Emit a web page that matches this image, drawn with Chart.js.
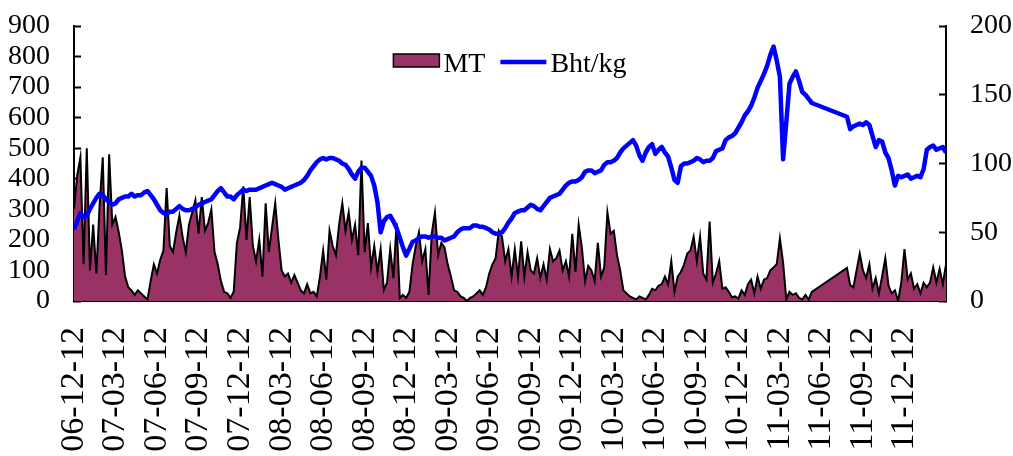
<!DOCTYPE html>
<html>
<head>
<meta charset="utf-8">
<script src="https://cdn.jsdelivr.net/npm/chart.js@4.4.1/dist/chart.umd.min.js"></script>
<style>
  html, body { margin: 0; padding: 0; background: #fff; overflow: hidden; }
  canvas { display: block; }
</style>
</head>
<body>
<canvas id="mtChart" width="1013" height="456"></canvas>
<script>
// quarter marks on the x axis, one every 13 weekly points
const tickLabels = [
  '06-12-12', '07-03-12', '07-06-12', '07-09-12', '07-12-12', '08-03-12', '08-06-12',
  '08-09-12', '08-12-12', '09-03-12', '09-06-12', '09-09-12', '09-12-12', '10-03-12',
  '10-06-12', '10-09-12', '10-12-12', '11-03-12', '11-06-12', '11-09-12', '11-12-12'
];
const weeksPerTick = 13;

// MT (left axis), weekly readings; null = no data (line spans the gap)
const mtValues = [
  300, 410, 470, 120, 500, 100, 250, 90, 310, 470,
  85, 480, 250, 275, 225, 165, 80, 45, 35, 20,
  35, 25, 15, 5, 65, 120, 90, 135, 165, 370,
  180, 160, 225, 280, 210, 160, 250, 290, 330, 220,
  340, 230, 255, 300, 160, 120, 65, 30, 25, 10,
  30, 190, 240, 375, 200, 340, 180, 130, 200, 80,
  320, 160, 240, 320, 200, 100, 80, 90, 60, 85,
  60, 35, 25, 55, 25, 30, 15, 80, 165, 70,
  230, 180, 150, 250, 320, 230, 290, 200, 250, 150,
  460, 160, 255, 110, 180, 95, 170, 36, 60, 170,
  75, 255, 10, 20, 10, 30, 120, 180, 225, 130,
  170, 20, 220, 290, 150, 190, 175, 120, 80, 35,
  30, 15, 10, 0, 10, 15, 25, 35, 20, 45,
  90, 120, 140, 230, 210, 130, 170, 80, 170, 80,
  195, 80, 160, 100, 90, 140, 75, 120, 70, 170,
  130, 140, 165, 100, 130, 80, 220, 95, 250, 175,
  65, 115, 100, 65, 190, 80, 110, 290, 220, 230,
  150, 100, 35, 25, 15, 10, 5, 15, 10, 5,
  20, 40, 35, 50, 55, 80, 55, 130, 30, 80,
  95, 120, 155, 165, 210, 130, 210, 90, 70, 260,
  60, 90, 130, 40, 45, 30, 12, 15, 8, 35,
  20, 55, 70, 25, 80, 40, 70, 75, 100, 110,
  120, 205, 125, 5, 30, 20, 25, 10, 5, 20,
  5, 30, null, null, null, null, null, null, null, null,
  null, null, 108, 52, 45, 100, 155, 100, 75, 120,
  40, 75, 25, 80, 140, 50, 25, 35, 0, 60,
  170, 70, 90, 40, 55, 25, 60, 45, 60, 110,
  60, 105, 55, 120
];

// Bht/kg (right axis), weekly readings
const bhtValues = [
  52, 58, 64, 61, 62, 67, 71, 75, 78, 77,
  74, 72, 70, 71, 74, 75, 76, 76, 78, 76,
  77, 77, 79, 80, 77, 74, 70, 66, 64, 63,
  65, 65, 67, 69, 67, 66, 66, 67, 68, 70,
  71, 72, 73, 74, 77, 80, 82, 79, 76, 76,
  74, 77, 79, 81, 80, 81, 81, 81, 82, 83,
  84, 85, 86, 85, 84, 83, 81, 82, 83, 84,
  85, 86, 88, 91, 95, 98, 101, 103, 104, 103,
  104, 104, 103, 102, 100, 99, 96, 92, 89, 94,
  97, 97, 94, 91, 84, 72, 50, 58, 61, 62,
  58, 53, 46, 39, 33, 38, 43, 44, 46, 47,
  47, 46, 47, 47, 46, 46, 44, 45, 46, 47,
  50, 52, 53, 53, 53, 55, 55, 54, 54, 53,
  52, 50, 49, 49, 50, 53, 57, 60, 64, 65,
  66, 66, 68, 70, 69, 67, 66, 69, 72, 75,
  76, 77, 78, 81, 84, 86, 87, 87, 88, 90,
  94, 95, 95, 93, 94, 95, 99, 101, 101, 102,
  104, 108, 111, 113, 115, 117, 113, 106, 102, 108,
  112, 114, 107, 110, 112, 108, 105, 97, 88, 86,
  98, 100, 100, 101, 102, 104, 103, 101, 102, 102,
  104, 109, 110, 111, 117, 119, 120, 122, 126, 130,
  135, 138, 142, 148, 155, 160, 165, 171, 179, 185,
  175, 163, 103, 130, 158, 163, 167, 160, 152, 150,
  147, 144, null, null, null, null, null, null, null, null,
  null, null, 134, 125, 127, 128, 129, 128, 130, 128,
  120, 112, 117, 116, 108, 104, 95, 84, 91, 90,
  91, 92, 89, 90, 91, 90, 96, 110, 112, 113,
  110, 111, 112, 108
];

const serif = '"Liberation Serif", "Times New Roman", serif';
const yTickFont = { family: serif, size: 28 };
const xTickFont = { family: serif, size: 34 };

// legend drawn inside the plot, centred near the top
const insideLegend = {
  id: 'insideLegend',
  afterDatasetsDraw(chart) {
    const { ctx, chartArea } = chart;
    const swatch = 46, gap = 4, itemGap = 15;
    ctx.save();
    ctx.font = '28px ' + serif;
    ctx.textBaseline = 'middle';
    const items = chart.data.datasets.map(ds => ({ ds, w: swatch + gap + ctx.measureText(ds.label).width }));
    const total = items.reduce((s, it) => s + it.w, 0) + itemGap * (items.length - 1);
    let x = (chartArea.left + chartArea.right) / 2 - total / 2;
    const y = chartArea.top + 35;
    items.forEach(({ ds, w }) => {
      if (ds.fill) {
        ctx.fillStyle = ds.backgroundColor;
        ctx.fillRect(x, y - 7, swatch, 13);
        ctx.strokeStyle = ds.borderColor;
        ctx.lineWidth = 1.5;
        ctx.strokeRect(x, y - 7, swatch, 13);
      } else {
        ctx.strokeStyle = ds.borderColor;
        ctx.lineWidth = ds.borderWidth;
        ctx.beginPath();
        ctx.moveTo(x, y + 1);
        ctx.lineTo(x + swatch, y + 1);
        ctx.stroke();
      }
      ctx.fillStyle = '#000';
      ctx.fillText(ds.label, x + swatch + gap, y + 4);
      x += w + itemGap;
    });
    ctx.restore();
  }
};

// fixed axis widths, and no extra label padding above/below the plot
const fitY = (width) => (scale) => {
  scale.width = width;
  scale.paddingTop = 0;
  scale.paddingBottom = 0;
};

const ctx = document.getElementById('mtChart').getContext('2d');

new Chart(ctx, {
  type: 'line',
  data: {
    datasets: [
      {
        label: 'MT',
        data: mtValues.map((v, i) => ({ x: i, y: v })),
        yAxisID: 'y',
        fill: 'origin',
        backgroundColor: '#993366',
        borderColor: '#000',
        borderWidth: 2,
        pointRadius: 0,
        tension: 0,
        spanGaps: true,
        order: 1
      },
      {
        label: 'Bht/kg',
        data: bhtValues.map((v, i) => ({ x: i, y: v })),
        yAxisID: 'y1',
        fill: false,
        borderColor: '#0000ff',
        borderWidth: 4.5,
        borderJoinStyle: 'round',
        pointRadius: 0,
        tension: 0,
        spanGaps: true,
        order: 0
      }
    ]
  },
  options: {
    responsive: false,
    animation: false,
    devicePixelRatio: 1,
    layout: { padding: { top: 26, left: 0, right: 0, bottom: 0 } },
    plugins: {
      legend: { display: false },
      tooltip: { enabled: false }
    },
    scales: {
      x: {
        type: 'linear',
        min: 0,
        max: 273,
        afterBuildTicks: (scale) => {
          scale.ticks = tickLabels.map((_, k) => ({ value: k * weeksPerTick }));
        },
        afterFit: (scale) => { scale.height = 155; },
        grid: { display: true, drawOnChartArea: false, drawTicks: false },
        border: { display: true, color: '#000', width: 2 },
        ticks: {
          autoSkip: false,
          minRotation: 90,
          maxRotation: 90,
          padding: 26,
          color: '#000',
          font: xTickFont,
          callback: (value, index) => tickLabels[index]
        }
      },
      y: {
        position: 'left',
        min: 0,
        max: 900,
        afterFit: fitY(74),
        grid: { drawOnChartArea: false, tickLength: -7, tickColor: '#000', tickWidth: 2 },
        border: { color: '#000', width: 2 },
        ticks: { stepSize: 100, autoSkip: false, padding: 31, color: '#000', font: yTickFont }
      },
      y1: {
        position: 'right',
        min: 0,
        max: 200,
        afterFit: fitY(67),
        grid: { drawOnChartArea: false, tickLength: -7, tickColor: '#000', tickWidth: 2 },
        border: { color: '#000', width: 2 },
        ticks: { stepSize: 50, autoSkip: false, padding: 31, color: '#000', font: yTickFont }
      }
    }
  },
  plugins: [insideLegend]
});
</script>
</body>
</html>
